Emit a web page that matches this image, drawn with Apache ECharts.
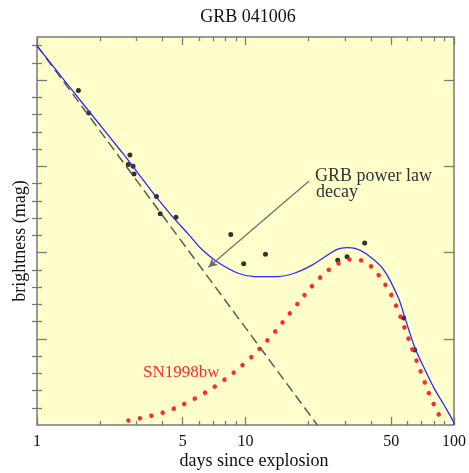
<!DOCTYPE html>
<html>
<head>
<meta charset="utf-8">
<script src="https://cdn.jsdelivr.net/npm/echarts@6/dist/echarts.min.js"></script>
<style>html,body{margin:0;padding:0;background:#fff}#c{width:469px;height:473px}</style>
</head>
<body>
<div id="c"></div>
<script>
// observed photometry
const obsDays = [1.58, 1.77, 2.79, 2.74, 2.89, 2.92, 3.74, 3.90, 4.64, 8.50, 9.80, 12.47, 27.7, 30.7, 37.3, 57.4, 64.8];
const obsMag  = [20.12, 20.38, 20.87, 20.98, 21.00, 21.09, 21.35, 21.55, 21.59, 21.79, 22.13, 22.02, 22.09, 22.05, 21.89, 22.76, 23.13];
// GRB power-law decay (straight in log time)
const plDays = [1, 22.1];
const plMag  = [19.60, 24.0];
// SN1998bw template
const snDays = [2.745, 4.00, 5.675, 7.79, 10.39, 13.41, 16.94, 21.39, 25.68, 28.51, 32.31, 36.56, 40.64, 43.88, 47.0, 50.05, 54.97, 59.8, 64.8, 70.7, 76.9, 85.2, 88.7];
const snMag  = [23.947, 23.858, 23.697, 23.488, 23.238, 22.957, 22.656, 22.359, 22.179, 22.116, 22.078, 22.098, 22.174, 22.275, 22.379, 22.491, 22.722, 22.965, 23.196, 23.439, 23.67, 23.897, 24.0];
// total model (power law + SN)
const fitDays = [1.0, 1.752, 2.570, 3.086, 3.704, 4.441, 5.332, 6.166, 7.40, 9.21, 11.06, 14.27, 17.13, 20.54, 23.78, 27.51, 30.69, 33.6, 38.2, 45.85, 54.0, 58.1, 64.8, 72.3, 80.6, 89.9, 99.2, 100];
const fitMag  = [19.604, 20.344, 20.845, 21.095, 21.346, 21.577, 21.789, 21.962, 22.116, 22.240, 22.278, 22.278, 22.240, 22.155, 22.058, 21.962, 21.943, 21.951, 22.02, 22.194, 22.521, 22.752, 23.099, 23.35, 23.581, 23.774, 23.959, 24.0];
// arrow annotation (from, to)
const arrowFrom = [20.18, 21.17];
const arrowTo   = [6.64, 22.17];
// ticks
const xMajorTicks = [1, 5, 10, 50, 100];
const xMinorTicks = [2, 3, 4, 6, 7, 8, 9, 20, 30, 40, 60, 70, 80, 90];
const xLabels = [1, 5, 10, 50, 100];
const yMajorTicks = [20, 21, 22, 23];
const yMinorTicks = [19.6, 19.8, 20.2, 20.4, 20.6, 20.8, 21.2, 21.4, 21.6, 21.8, 22.2, 22.4, 22.6, 22.8, 23.2, 23.4, 23.6, 23.8];

const zip = (a, b) => a.map((v, i) => [v, b[i]]);
const lg = v => Math.log10(v);
const SERIF = '"Liberation Serif", "DejaVu Serif", serif';
const GRAY = '#7a7a7a';

function xTickAxis(pos, vals, len, withLabels) {
  return {
    type: 'value', min: 0, max: 2, position: pos, gridIndex: 0,
    axisLine: { show: false }, splitLine: { show: false },
    axisTick: { show: true, inside: true, length: len, customValues: vals.map(lg),
      lineStyle: { color: GRAY, width: 1.3 } },
    axisLabel: withLabels ? {
      show: true, customValues: xLabels.map(lg), margin: 9,
      formatter: v => String(Math.round(Math.pow(10, v))),
      fontFamily: SERIF, fontSize: 16, color: '#111'
    } : { show: false }
  };
}
function yTickAxis(pos, vals, len) {
  return {
    type: 'value', min: 19.5, max: 24, inverse: true, position: pos, gridIndex: 0,
    axisLine: { show: false }, splitLine: { show: false },
    axisTick: { show: true, inside: true, length: len, customValues: vals,
      lineStyle: { color: GRAY, width: 1.3 } },
    axisLabel: { show: false }
  };
}

const chart = echarts.init(document.getElementById('c'));
chart.setOption({
  animation: false,
  backgroundColor: '#ffffff',
  grid: { left: 37, top: 37, right: 11, bottom: 48, show: true,
    backgroundColor: '#ffffcc', borderColor: GRAY, borderWidth: 1.5 },
  xAxis: [
    { type: 'log', logBase: 10, min: 1, max: 100, show: true,
      axisLine: { show: false }, axisTick: { show: false }, axisLabel: { show: false }, splitLine: { show: false } },
    xTickAxis('bottom', xMinorTicks, 4, false),
    xTickAxis('bottom', xMajorTicks, 8, true),
    xTickAxis('top', xMinorTicks, 4, false),
    xTickAxis('top', xMajorTicks, 8, false)
  ],
  yAxis: [
    { type: 'value', min: 19.5, max: 24, inverse: true,
      axisLine: { show: false }, axisTick: { show: false }, axisLabel: { show: false }, splitLine: { show: false } },
    yTickAxis('left', yMinorTicks, 5),
    yTickAxis('left', yMajorTicks, 10),
    yTickAxis('right', yMinorTicks, 5),
    yTickAxis('right', yMajorTicks, 10)
  ],
  series: [
    { type: 'line', data: zip(snDays, snMag), smooth: 0.35, showSymbol: false, symbol: 'none',
      lineStyle: { color: '#ff2a2a', width: 4.5, cap: 'round', type: [0.1, 11.6] } },
    { type: 'line', data: zip(plDays, plMag), showSymbol: false, symbol: 'none',
      lineStyle: { color: '#5a5a5a', width: 1.5, type: [10, 5] },
      markLine: { silent: true, symbol: ['none', 'arrow'], symbolSize: [7, 9],
        label: { show: false },
        lineStyle: { color: '#707070', width: 1.3, type: 'solid' },
        data: [[{ coord: arrowFrom }, { coord: arrowTo }]] } },
    { type: 'line', data: zip(fitDays, fitMag), smooth: 0.35, showSymbol: false, symbol: 'none',
      lineStyle: { color: '#2a2aff', width: 1.3 } },
    { type: 'scatter', data: zip(obsDays, obsMag), symbol: 'circle', symbolSize: 5,
      itemStyle: { color: '#000' } }
  ],
  graphic: [
    { type: 'text', x: 248, y: 17, style: { text: 'GRB 041006', font: '18px ' + SERIF, fill: '#111', textAlign: 'center', textVerticalAlign: 'middle' } },
    { type: 'text', x: 254, y: 461, style: { text: 'days since explosion', font: '18px ' + SERIF, fill: '#111', textAlign: 'center', textVerticalAlign: 'middle' } },
    { type: 'text', x: 20, y: 241, rotation: Math.PI / 2, style: { text: 'brightness (mag)', font: '18px ' + SERIF, fill: '#111', textAlign: 'center', textVerticalAlign: 'middle' } },
    { type: 'text', x: 315, y: 176, style: { text: 'GRB power law', font: '18px ' + SERIF, fill: '#333', textAlign: 'left', textVerticalAlign: 'middle' } },
    { type: 'text', x: 316, y: 192, style: { text: 'decay', font: '18px ' + SERIF, fill: '#333', textAlign: 'left', textVerticalAlign: 'middle' } },
    { type: 'text', x: 143, y: 373, style: { text: 'SN1998bw', font: '17px ' + SERIF, fill: '#ff2a2a', textAlign: 'left', textVerticalAlign: 'middle' } }
  ]
});
</script>
</body>
</html>
